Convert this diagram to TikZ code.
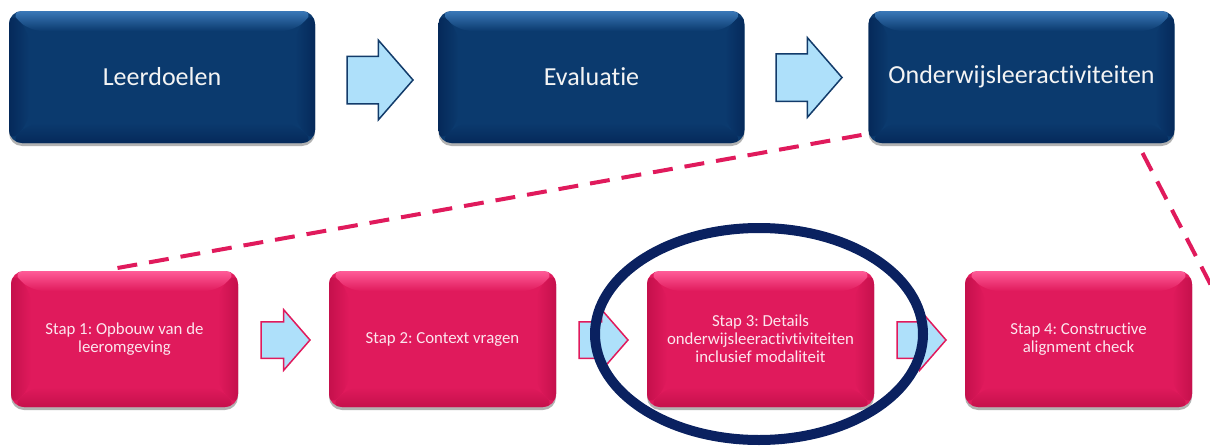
\documentclass[tikz,border=0pt]{standalone}
\usepackage{fontspec}
\setmainfont{Carlito}[Ligatures=NoCommon]
\frenchspacing
\usetikzlibrary{shapes.arrows,shapes.geometric,shadows,calc}

\definecolor{navybase}{HTML}{0B3A6E}
\definecolor{navylight}{HTML}{3A78B8}
\definecolor{navydark}{HTML}{05295A}
\definecolor{pinkbase}{HTML}{E01A5C}
\definecolor{pinklight}{HTML}{FF5C98}
\definecolor{pinkdark}{HTML}{C5104C}
\definecolor{arrowfill}{HTML}{AEE0FA}
\definecolor{arrowline}{HTML}{123B6A}
\definecolor{ringblue}{HTML}{0A2160}
\definecolor{boxtext}{HTML}{F4F4F4}
\definecolor{pinktext}{HTML}{FCE6EE}

\tikzset{
  % bevelled rounded box: #1 base, #2 light edge, #3 dark edge
  bevelbox/.style n args={3}{
    rounded corners=13pt, inner sep=0pt, outer sep=0pt, align=center,
    fill=#1,
    drop shadow={shadow xshift=0pt, shadow yshift=-3pt, opacity=0.3, fill=black},
    path picture={
      \path (path picture bounding box.south west) coordinate (pSW)
            (path picture bounding box.north east) coordinate (pNE)
            (pSW |- pNE) coordinate (pNW)
            (pNE |- pSW) coordinate (pSE);
      \path ([shift={(20pt,20pt)}]pSW) coordinate (iSW)
            ([shift={(-20pt,-20pt)}]pNE) coordinate (iNE)
            (iSW |- iNE) coordinate (iNW)
            (iNE |- iSW) coordinate (iSE);
      \shade[top color=#2, bottom color=#1] (pNW) -- (pNE) -- (iNE) -- (iNW) -- cycle;
      \shade[left color=#3, right color=#1] (pNW) -- (pSW) -- (iSW) -- (iNW) -- cycle;
      \shade[right color=#3, left color=#1] (pNE) -- (pSE) -- (iSE) -- (iNE) -- cycle;
      \shade[bottom color=#3, top color=#1] (pSW) -- (pSE) -- (iSE) -- (iSW) -- cycle;
    }
  },
  topbox/.style={bevelbox={navybase}{navylight}{navydark},
    minimum width=306pt, minimum height=132pt,
    text=boxtext, font=\fontsize{26}{30}\selectfont},
  stepbox/.style={bevelbox={pinkbase}{pinklight}{pinkdark},
    minimum width=227pt, minimum height=136pt,
    text=pinktext, font=\fontsize{16.8}{18}\selectfont},
  blockarrow/.style={single arrow, single arrow tip angle=98, anchor=tail,
    inner xsep=0pt, outer sep=0pt, fill=arrowfill, line width=1.5pt, draw=#1},
  toparrow/.style={blockarrow=arrowline, minimum height=66pt,
    inner ysep=23pt, single arrow head extend=16pt},
  steparrow/.style={blockarrow=pinkbase, minimum height=49pt,
    inner ysep=17.5pt, single arrow head extend=12pt},
  dashlink/.style={draw=pinkbase, line width=4pt, dash pattern=on 20pt off 12pt},
  focusring/.style={ellipse, draw=ringblue, line width=10pt,
    minimum width=328pt, minimum height=212pt, inner sep=0pt}
}

\begin{document}
\begin{tikzpicture}[x=1pt, y=-1pt]
  \useasboundingbox (0,0) rectangle (1210,447);

  % top row
  \node[topbox] (ld) at (162,77)    {Leerdoelen};
  \node[topbox] (ev) at (591.5,77)  {Evaluatie};
  \node[topbox] (ow) at (1021.5,77) {Onderwijsleeractiviteiten};
  % block arrows, placed by their tails
  \node[toparrow] (a1) at (347,80)   {};
  \node[toparrow] (a2) at (776,77.5) {};

  % bottom row
  \node[stepbox] (s1) at (124.5,339) {Stap 1: Opbouw van de\\leeromgeving};
  \node[stepbox] (s2) at (442.5,339) {Stap 2: Context vragen};
  \node[stepbox] (s3) at (760.5,339) {Stap 3: Details\\onderwijsleeractivtiviteiten\\inclusief modaliteit};
  \node[stepbox] (s4) at (1078.5,339) {Stap 4: Constructive\\alignment check};
  \node[steparrow] (b1) at (261,340) {};
  \node[steparrow] (b2) at (579,340) {};
  \node[steparrow] (b3) at (897,340) {};

  % dashed zoom lines
  \coordinate (zl) at ($(s1.north)+(-7,-3)$);
  \coordinate (zr) at ($(ow.south west)+(-7,-8)$);
  \coordinate (ztop) at ($(ow.south east)+(-32,10)$);
  \coordinate (zend) at (1245,351);
  \draw[dashlink] (zl) -- (zr);
  \draw[dashlink] (ztop) -- (zend);

  % highlight ring
  \node[focusring] (focus) at (759,334) {};
\end{tikzpicture}
\end{document}
